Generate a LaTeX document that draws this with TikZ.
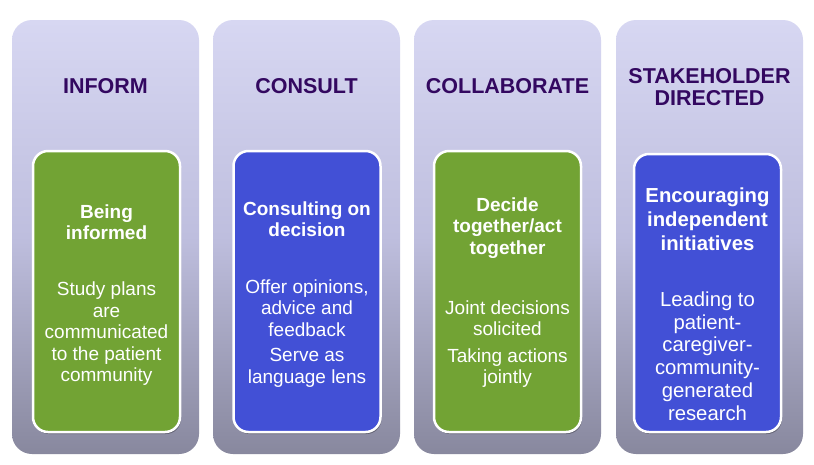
\documentclass[tikz,border=0pt]{standalone}
\usepackage{fontspec}
\setmainfont{Liberation Sans}
\usetikzlibrary{shadows}
\definecolor{ptop}{RGB}{215,215,242}
\definecolor{pmid}{RGB}{190,190,222}
\definecolor{pbot}{RGB}{136,136,158}
\definecolor{boxgreen}{RGB}{114,163,52}
\definecolor{boxblue}{RGB}{66,80,214}
\definecolor{titlecol}{RGB}{51,8,96}
\begin{document}
\begin{tikzpicture}[x=1pt,y=-1pt,
 panel/.style={rounded corners=20pt, top color=ptop, bottom color=pbot, middle color=pmid, draw=none, minimum width=187pt, minimum height=434pt, inner sep=0pt},
 inner/.style={rounded corners=15pt, draw=white, line width=2.5pt, inner sep=0pt, minimum width=147pt,
   drop shadow={shadow xshift=1pt, shadow yshift=-2pt, opacity=0.3, fill=black}},
 gbox/.style={inner, fill=boxgreen},
 bbox/.style={inner, fill=boxblue},
 title/.style={font=\fontsize{21.5}{22}\selectfont\bfseries, text=titlecol, align=center, inner sep=0pt},
 head/.style={font=\fontsize{19}{21.5}\selectfont\bfseries, text=white, align=center, inner sep=0pt},
 body/.style={font=\fontsize{19}{21.5}\selectfont, text=white, align=center, inner sep=0pt},
 head4/.style={font=\fontsize{20.3}{24}\selectfont\bfseries, text=white, align=center, inner sep=0pt},
 body4/.style={font=\fontsize{20.3}{22.8}\selectfont, text=white, align=center, inner sep=0pt},
]
\useasboundingbox[fill=white] (0,0) rectangle (814,464);
% panels
\node[panel] (p1) at (105.5,237) {};
\node[panel] (p2) at (306.5,237) {};
\node[panel] (p3) at (507.5,237) {};
\node[panel] (p4) at (709.5,237) {};
% titles
\node[title] (t1) at (105.5,86) {INFORM};
\node[title] (t2) at (306.5,86) {CONSULT};
\node[title] (t3) at (507.5,86) {COLLABORATE};
\node[title] (t4) at (709.5,87) {STAKEHOLDER\\DIRECTED};
% inner boxes
\node[gbox, minimum height=281pt] (b1) at (106.5,291.5) {};
\node[bbox, minimum height=281pt] (b2) at (307,291.5) {};
\node[gbox, minimum height=281pt] (b3) at (507.5,291.5) {};
\node[bbox, minimum height=278pt] (b4) at (707.5,293) {};
% texts
\node[head] (h1) at (106.5,222) {Being\\informed};
\node[body] (d1) at (106.5,334) {Study plans\\are\\communicated\\to the patient\\community};
\node[head] (h2) at (307,219) {Consulting on\\decision};
\node[body] (d2a) at (307,308) {Offer opinions,\\advice and\\feedback};
\node[body] (d2b) at (307,368) {Serve as\\language lens};
\node[head] (h3) at (507.5,228) {Decide\\together/act\\together};
\node[body] (d3a) at (507.5,318) {Joint decisions\\solicited};
\node[body] (d3b) at (507.5,368) {Taking actions\\jointly};
\node[head4] (h4) at (707.5,219) {Encouraging\\independent\\initiatives};
\node[body4] (d4) at (707.5,356) {Leading to\\patient-\\caregiver-\\community-\\generated\\research};
\end{tikzpicture}
\end{document}
